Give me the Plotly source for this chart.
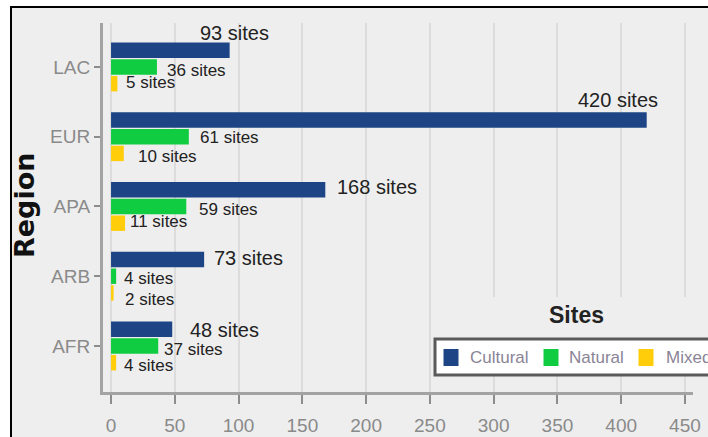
import plotly.graph_objects as go

# data
regions = ["LAC", "EUR", "APA", "ARB", "AFR"]
series_names = ["Cultural", "Natural", "Mixed"]
cultural_sites = [93, 420, 168, 73, 48]
natural_sites = [36, 61, 59, 4, 37]
mixed_sites = [5, 10, 11, 2, 4]
x_tick_values = [0, 50, 100, 150, 200, 250, 300, 350, 400, 450]

SERIES_COLOURS = ["#1d4485", "#10cc40", "#ffcd0a"]
TEXT_FONT = "Liberation Sans, Arial, sans-serif"

W, H = 708, 437
M_L, M_R, M_T, M_B = 103, 15, 23, 45
PLOT_W = W - M_L - M_R
PLOT_H = H - M_T - M_B
X_RANGE = [-6.3, 456.3]
Y_RANGE = [4.66, -0.63]
BARGAP = 0.28
BARGROUPGAP = 0.08

# label nudges per series: (xanchor, dx px, dy px downward)
LABEL_NUDGES = [
    [("center", 5, -17), ("right", 13, -20), ("left", 10, -3), ("left", 8, -1), ("left", 16, 1)],
    [("left", 8, 4), ("left", 9, 1), ("left", 11, 3), ("left", 6, 2), ("left", 4, 4)],
    [("left", 7, -1), ("left", 12, 3), ("left", 3, -2), ("left", 9, 7), ("left", 6, 3)],
]
LABEL_SIZES = [20, 17, 17]


def px(x):
    # pixel -> paper x
    return (x - M_L) / PLOT_W


def py(y):
    # pixel -> paper y
    return (M_T + PLOT_H - y) / PLOT_H


fig = go.Figure()
all_series = [cultural_sites, natural_sites, mixed_sites]

for name, values, colour in zip(series_names, all_series, SERIES_COLOURS):
    fig.add_trace(
        go.Bar(
            x=values,
            y=regions,
            name=name,
            orientation="h",
            marker=dict(color=colour, line=dict(width=0)),
            showlegend=False,
            hoverinfo="x+y+name",
        )
    )

# value labels
cat_px = PLOT_H / (Y_RANGE[0] - Y_RANGE[1])
slot_px = (1 - BARGAP) * cat_px / len(series_names)
annotations = []
for s_idx, values in enumerate(all_series):
    group_shift = (1 - s_idx) * slot_px
    for r_idx, (region, value) in enumerate(zip(regions, values)):
        anchor, dx, dy = LABEL_NUDGES[s_idx][r_idx]
        annotations.append(
            dict(
                x=value,
                y=region,
                xref="x",
                yref="y",
                text=f"{value} sites",
                showarrow=False,
                xanchor=anchor,
                yanchor="middle",
                xshift=dx,
                yshift=group_shift - dy,
                font=dict(family=TEXT_FONT, size=LABEL_SIZES[s_idx], color="#222222"),
            )
        )

# axis title
annotations.append(
    dict(
        x=px(24), y=py(206), xref="paper", yref="paper",
        xanchor="center", yanchor="middle",
        text="<b>Region</b>", textangle=-90, showarrow=False,
        font=dict(family="DejaVu Sans, sans-serif", size=27, color="#111111"),
    )
)

# hand-made legend (it runs off the right edge in the original)
annotations.append(
    dict(
        x=px(576), y=py(315), xref="paper", yref="paper",
        xanchor="center", yanchor="middle",
        text="<b>Sites</b>", showarrow=False,
        font=dict(family=TEXT_FONT, size=23, color="#222222"),
    )
)
legend_square_x = [451, 551, 646]
legend_text_x = [468, 567, 664]
FAR = 1000
shapes = [
    # grey card with black left/top border
    dict(type="rect", xref="paper", yref="paper", x0=px(11), x1=px(FAR), y0=py(7), y1=py(FAR),
         fillcolor="#eeeeee", line=dict(width=0), layer="below"),
    dict(type="line", xref="paper", yref="paper", x0=px(11), x1=px(11), y0=py(6), y1=py(FAR),
         line=dict(color="black", width=2), layer="below"),
    dict(type="line", xref="paper", yref="paper", x0=px(10), x1=px(FAR), y0=py(7), y1=py(7),
         line=dict(color="black", width=2), layer="below"),
    # cover behind legend title
    dict(type="rect", xref="paper", yref="paper", x0=px(432), x1=px(FAR), y0=py(339), y1=py(297),
         fillcolor="#eeeeee", line=dict(width=0), layer="above"),
    # legend box, open on the right where it leaves the picture
    dict(type="rect", xref="paper", yref="paper", x0=px(435), x1=px(FAR), y0=py(375), y1=py(339),
         fillcolor="white", line=dict(width=0), layer="above"),
    dict(type="path", xref="paper", yref="paper",
         path=f"M {px(FAR)},{py(339)} L {px(435)},{py(339)} L {px(435)},{py(375)} L {px(FAR)},{py(375)}",
         line=dict(color="#5a5a5a", width=3), layer="above"),
]
for name, colour, sx, tx in zip(series_names, SERIES_COLOURS, legend_square_x, legend_text_x):
    shapes.append(
        dict(type="rect", xref="paper", yref="paper", x0=px(sx - 7.5), x1=px(sx + 7.5),
             y0=py(366), y1=py(349), fillcolor=colour, line=dict(width=0), layer="above")
    )
    annotations.append(
        dict(
            x=px(tx), y=py(357), xref="paper", yref="paper", text=name,
            showarrow=False, xanchor="left", yanchor="middle",
            font=dict(family=TEXT_FONT, size=17, color="#8a8496"),
        )
    )

fig.update_layout(
    template="none",
    width=W,
    height=H,
    margin=dict(l=M_L, r=M_R, t=M_T, b=M_B, pad=0),
    paper_bgcolor="white",
    plot_bgcolor="#eeeeee",
    barmode="group",
    bargap=BARGAP,
    bargroupgap=BARGROUPGAP,
    showlegend=False,
    xaxis=dict(
        range=X_RANGE,
        tickvals=x_tick_values,
        showgrid=True,
        gridcolor="#dcdcdc",
        gridwidth=2,
        zeroline=False,
        showline=True,
        linecolor="#a3a3a3",
        linewidth=3,
        ticks="outside",
        ticklen=9,
        tickwidth=2,
        tickcolor="#8c8c8c",
        ticklabelstandoff=5,
        tickfont=dict(family=TEXT_FONT, size=19, color="#8a8a8a"),
        automargin=False,
    ),
    yaxis=dict(
        type="category",
        categoryorder="array",
        categoryarray=regions,
        range=Y_RANGE,
        showgrid=False,
        zeroline=False,
        showline=True,
        linecolor="#a3a3a3",
        linewidth=3,
        ticks="outside",
        ticklen=6,
        tickwidth=2,
        tickcolor="#8c8c8c",
        tickfont=dict(family=TEXT_FONT, size=19, color="#8a8a8a"),
        automargin=False,
    ),
    shapes=shapes,
    annotations=annotations,
)

# drop the default page margin so the figure fills the window exactly
fig.write_html(
    "out.html",
    config={"displayModeBar": False},
    post_script="document.body.style.margin='0';document.body.style.overflow='hidden';",
)
